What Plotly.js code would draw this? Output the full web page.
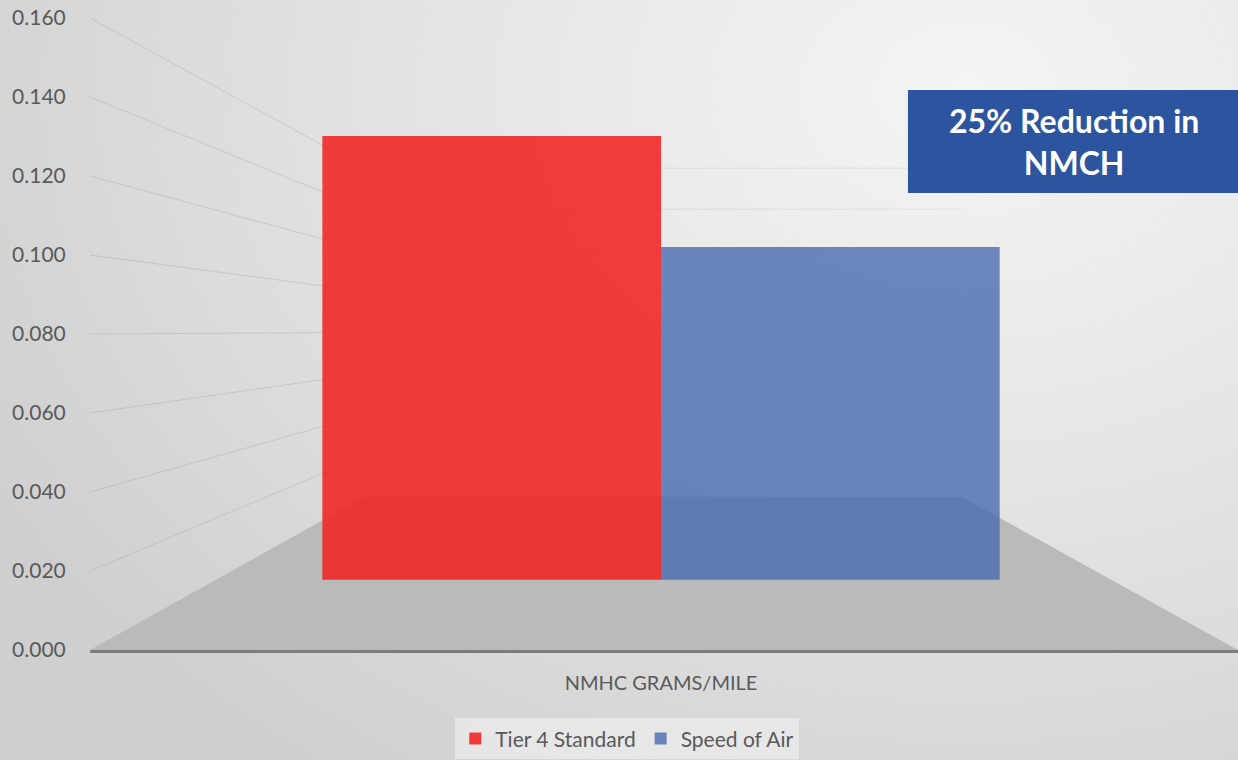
<!DOCTYPE html>
<html>
<head>
<meta charset="utf-8">
<script src="https://cdn.plot.ly/plotly-3.0.1.min.js"></script>
<style>
  html, body { margin: 0; padding: 0; }
  body {
    width: 1238px; height: 760px; overflow: hidden;
    background: radial-gradient(ellipse 90% 110% at 78% 12%, #f4f4f4 0%, #e9e9e9 35%, #dcdcdc 70%, #cfcfcf 100%);
  }
  #chart { width: 1238px; height: 760px; }
</style>
</head>
<body>
<div id="chart"></div>
<script>
// ---- data ----
const categories = ["NMHC GRAMS/MILE"];
const seriesNames = ["Tier 4 Standard", "Speed of Air"];
const tier4Values = [0.144];
const speedOfAirValues = [0.108];
const yTickValues = [0.000, 0.020, 0.040, 0.060, 0.080, 0.100, 0.120, 0.140, 0.160];
const calloutText = "25% Reduction in<br>NMCH";

// ---- perspective geometry (front plane = axis 'y', range [0, 0.16]; x in plot fraction) ----
const yMax = 0.16;
const vp = { x: 0.4983, y: 0.0808 };   // vanishing point (plot-fraction x, front-axis y units)
const backScale = 0.52;                  // back wall scale relative to the front plane
const barScale = 0.78;                   // scale of the plane where the bars stand
function project(x, y, s) { return [vp.x + s * (x - vp.x), vp.y + s * (y - vp.y)]; }
function toPaper(pt) { return [pt[0], pt[1] / yMax]; }   // front-axis units -> paper fraction
function pathOf(pts, close) {
  return pts.map((p, i) => (i ? 'L' : 'M') + toPaper(p)[0].toFixed(5) + ',' + toPaper(p)[1].toFixed(5)).join(' ') + (close ? ' Z' : '');
}

// bar-plane axis: value v on y2 lands where the front-plane value vp.y + s*(v - vp.y) would
const y2Range = [vp.y + (0 - vp.y) / barScale, vp.y + (yMax - vp.y) / barScale];

const shapes = [];
// floor
const bl = project(0, 0, backScale), br = project(1, 0, backScale);
shapes.push({
  type: 'path', xref: 'paper', yref: 'paper', layer: 'below',
  path: pathOf([[0, 0], [1, 0], br, bl], true),
  fillcolor: '#bababa', line: { width: 0 }
});
// perspective gridlines (left wall + back wall)
yTickValues.filter(v => v > 0).forEach(v => {
  const cl = project(0, v, backScale), cr = project(1, v, backScale);
  shapes.push({
    type: 'path', xref: 'paper', yref: 'paper', layer: 'below',
    path: pathOf([[0, v], cl], false),
    line: { color: 'rgba(150,150,150,0.30)', width: 1 }
  });
  shapes.push({
    type: 'path', xref: 'paper', yref: 'paper', layer: 'below',
    path: pathOf([cl, cr], false),
    line: { color: 'rgba(150,150,150,0.18)', width: 1 }
  });
});
// callout box
shapes.push({
  type: 'rect', xref: 'paper', yref: 'paper', layer: 'above',
  x0: 0.7125, x1: 1.0, y0: 0.7231, y1: 0.886,
  fillcolor: '#2d549e', line: { width: 0 }
});

const traces = [
  {
    type: 'bar', name: seriesNames[0], x: categories, y: tier4Values, yaxis: 'y2',
    marker: { color: 'rgba(242,34,34,0.88)', line: { width: 0 } }
  },
  {
    type: 'bar', name: seriesNames[1], x: categories, y: speedOfAirValues, yaxis: 'y2',
    marker: { color: 'rgba(74,108,176,0.80)', line: { width: 0 } }
  },
  // invisible helper so that the front axis 'y' is drawn
  {
    type: 'scatter', mode: 'markers', x: categories, y: [0], yaxis: 'y',
    marker: { opacity: 0, size: 1 }, hoverinfo: 'skip', showlegend: false
  }
];

const fontFam = 'Lato, "Open Sans", sans-serif';
const layout = {
  width: 1238, height: 760,
  margin: { l: 90, r: 0, t: 18, b: 110 },
  paper_bgcolor: 'rgba(0,0,0,0)', plot_bgcolor: 'rgba(0,0,0,0)',
  font: { family: fontFam, color: '#595959' },
  barmode: 'group', bargap: 0.41, bargroupgap: 0,
  xaxis: {
    type: 'category', range: [-0.4974, 0.5026],
    showgrid: false, zeroline: false,
    showline: true, linecolor: '#7c7c7c', linewidth: 3,
    ticks: 'outside', ticklen: 13, tickcolor: 'rgba(0,0,0,0)',
    tickfont: { size: 20, color: '#595959', family: fontFam }
  },
  yaxis: {
    range: [0, yMax], tickvals: yTickValues, tickformat: '.3f',
    showgrid: false, zeroline: false, showline: false,
    ticks: 'outside', ticklen: 19, tickcolor: 'rgba(0,0,0,0)',
    tickfont: { size: 21, color: '#595959', family: fontFam }
  },
  yaxis2: { overlaying: 'y', range: y2Range, visible: false, showgrid: false, zeroline: false },
  legend: {
    orientation: 'h', x: 0.468, xanchor: 'center', y: -0.108, yanchor: 'top',
    bgcolor: 'rgba(236,236,236,0.75)', font: { size: 21, color: '#595959', family: fontFam },
    itemwidth: 30
  },
  shapes: shapes,
  annotations: [{
    xref: 'paper', yref: 'paper', x: 0.857, y: 0.8038, xanchor: 'center', yanchor: 'middle',
    text: calloutText, showarrow: false, align: 'center',
    font: { family: fontFam, size: 32, color: '#ffffff', weight: 'bold' }
  }],
  showlegend: true
};

Plotly.newPlot('chart', traces, layout, { displayModeBar: false, staticPlot: true });
</script>
</body>
</html>
